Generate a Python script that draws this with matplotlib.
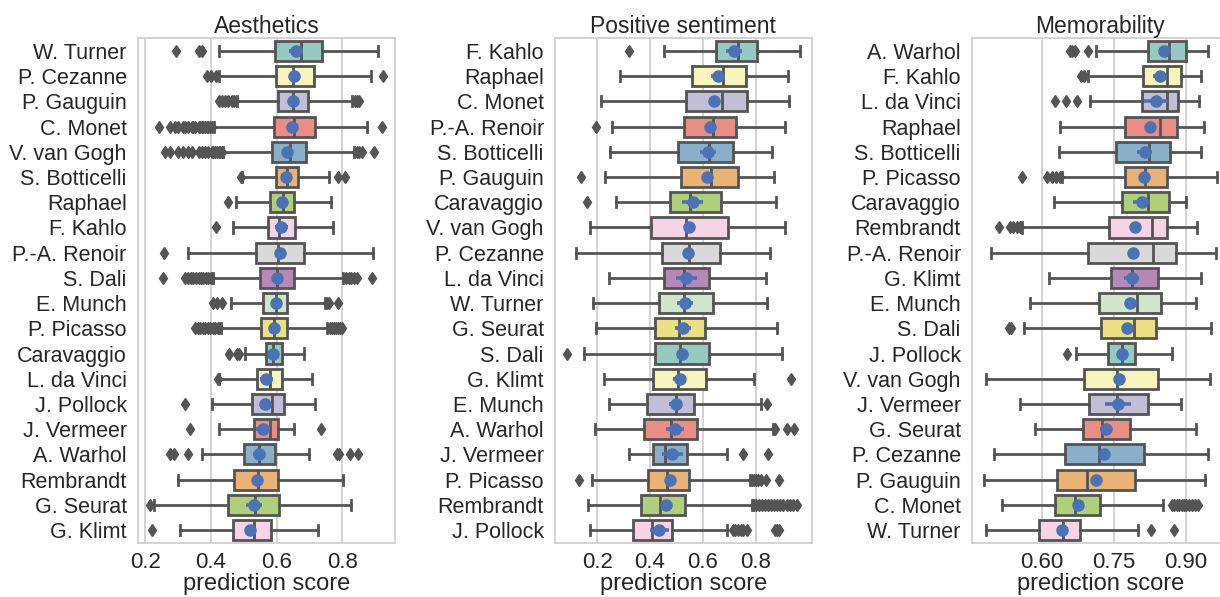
import colorsys

import matplotlib
matplotlib.use('Agg')
import matplotlib.pyplot as plt
import matplotlib.colors as mcolors

plt.rcParams['font.family'] = ['Liberation Sans', 'DejaVu Sans']

# ---- Aesthetics ----
aes_names = ['W. Turner', 'P. Cezanne', 'P. Gauguin', 'C. Monet', 'V. van Gogh',
             'S. Botticelli', 'Raphael', 'F. Kahlo', 'P.-A. Renoir', 'S. Dali',
             'E. Munch', 'P. Picasso', 'Caravaggio', 'L. da Vinci', 'J. Pollock',
             'J. Vermeer', 'A. Warhol', 'Rembrandt', 'G. Seurat', 'G. Klimt']
aes_q1 = [0.595, 0.598, 0.605, 0.592, 0.586, 0.597, 0.578, 0.573, 0.538, 0.550,
          0.559, 0.551, 0.567, 0.541, 0.526, 0.531, 0.499, 0.471, 0.453, 0.468]
aes_med = [0.675, 0.650, 0.649, 0.654, 0.641, 0.630, 0.618, 0.608, 0.603, 0.601,
           0.598, 0.592, 0.590, 0.580, 0.585, 0.578, 0.546, 0.544, 0.534, 0.531]
aes_q3 = [0.737, 0.712, 0.695, 0.716, 0.689, 0.664, 0.653, 0.655, 0.682, 0.653,
          0.632, 0.632, 0.617, 0.617, 0.622, 0.603, 0.595, 0.605, 0.607, 0.583]
aes_lo = [0.425, 0.423, 0.480, 0.409, 0.436, 0.495, 0.476, 0.466, 0.331, 0.406,
          0.462, 0.430, 0.504, 0.425, 0.404, 0.423, 0.374, 0.299, 0.225, 0.306]
aes_hi = [0.908, 0.886, 0.828, 0.874, 0.835, 0.759, 0.765, 0.772, 0.892, 0.802,
          0.747, 0.752, 0.684, 0.708, 0.716, 0.653, 0.698, 0.802, 0.826, 0.727]
aes_mean = [0.658, 0.653, 0.651, 0.645, 0.631, 0.628, 0.616, 0.614, 0.609, 0.601,
            0.598, 0.591, 0.588, 0.568, 0.564, 0.558, 0.547, 0.539, 0.531, 0.519]
aes_ci = [0.020, 0.012, 0.012, 0.012, 0.012, 0.010, 0.012, 0.020, 0.012, 0.012,
          0.012, 0.012, 0.010, 0.020, 0.015, 0.022, 0.018, 0.012, 0.025, 0.015]
aes_fliers = [
    [0.293, 0.362, 0.372],
    [0.387, 0.400, 0.415, 0.924],
    [0.423, 0.433, 0.442, 0.453, 0.463, 0.470, 0.838, 0.845, 0.851],
    [0.242, 0.276, 0.290, 0.300, 0.316, 0.322, 0.331, 0.341, 0.346, 0.352, 0.362,
     0.367, 0.372, 0.377, 0.382, 0.387, 0.392, 0.397, 0.402, 0.921],
    [0.260, 0.276, 0.301, 0.316, 0.331, 0.341, 0.362, 0.372, 0.382, 0.392, 0.402,
     0.407, 0.412, 0.418, 0.423, 0.428, 0.433, 0.843, 0.850, 0.858, 0.896],
    [0.492, 0.787, 0.808],
    [0.451],
    [0.415],
    [0.257],
    [0.255, 0.321, 0.331, 0.338, 0.346, 0.354, 0.362, 0.370, 0.377, 0.385, 0.392,
     0.400, 0.812, 0.820, 0.827, 0.835, 0.843, 0.890],
    [0.407, 0.418, 0.433, 0.752, 0.760, 0.787],
    [0.352, 0.360, 0.367, 0.375, 0.382, 0.390, 0.397, 0.405, 0.412, 0.420, 0.425,
     0.762, 0.768, 0.774, 0.780, 0.787, 0.793, 0.800],
    [0.456, 0.478, 0.486],
    [0.420],
    [0.321],
    [0.336, 0.734],
    [0.276, 0.286, 0.331, 0.782, 0.790, 0.822, 0.848],
    [],
    [0.215],
    [0.220],
]

# ---- Positive sentiment ----
pos_names = ['F. Kahlo', 'Raphael', 'C. Monet', 'P.-A. Renoir', 'S. Botticelli',
             'P. Gauguin', 'Caravaggio', 'V. van Gogh', 'P. Cezanne', 'L. da Vinci',
             'W. Turner', 'G. Seurat', 'S. Dali', 'G. Klimt', 'E. Munch',
             'A. Warhol', 'J. Vermeer', 'P. Picasso', 'Rembrandt', 'J. Pollock']
pos_q1 = [0.651, 0.559, 0.535, 0.528, 0.507, 0.516, 0.475, 0.405, 0.444, 0.453,
          0.435, 0.418, 0.420, 0.412, 0.388, 0.378, 0.413, 0.394, 0.365, 0.335]
pos_med = [0.734, 0.677, 0.671, 0.637, 0.623, 0.631, 0.551, 0.537, 0.548, 0.528,
           0.528, 0.508, 0.513, 0.507, 0.497, 0.479, 0.455, 0.465, 0.437, 0.407]
pos_q3 = [0.806, 0.763, 0.766, 0.727, 0.715, 0.734, 0.668, 0.694, 0.663, 0.623,
          0.639, 0.609, 0.623, 0.610, 0.567, 0.576, 0.540, 0.546, 0.532, 0.484]
pos_lo = [0.453, 0.288, 0.214, 0.256, 0.249, 0.229, 0.271, 0.172, 0.118, 0.245,
          0.185, 0.194, 0.149, 0.227, 0.245, 0.190, 0.319, 0.179, 0.166, 0.172]
pos_hi = [0.968, 0.922, 0.926, 0.911, 0.862, 0.869, 0.877, 0.910, 0.854, 0.839,
          0.841, 0.879, 0.901, 0.793, 0.822, 0.864, 0.690, 0.778, 0.785, 0.692]
pos_mean = [0.718, 0.656, 0.643, 0.627, 0.618, 0.617, 0.561, 0.548, 0.545, 0.538,
            0.532, 0.526, 0.522, 0.513, 0.497, 0.494, 0.485, 0.475, 0.459, 0.435]
pos_ci = [0.030, 0.025, 0.015, 0.015, 0.030, 0.015, 0.040, 0.015, 0.015, 0.040,
          0.030, 0.030, 0.015, 0.025, 0.025, 0.035, 0.040, 0.015, 0.015, 0.035]
pos_fliers = [
    [0.320], [], [], [0.195], [], [0.138], [0.160], [], [], [], [], [],
    [0.084],
    [0.934],
    [0.841],
    [0.873, 0.917, 0.946],
    [0.753, 0.848],
    [0.132, 0.785, 0.793, 0.801, 0.810, 0.819, 0.839, 0.889],
    [0.793, 0.803, 0.814, 0.825, 0.835, 0.846, 0.857, 0.868, 0.879, 0.892, 0.905,
     0.918, 0.930, 0.943, 0.955],
    [0.713, 0.723, 0.734, 0.744, 0.753, 0.768, 0.873, 0.881, 0.889],
]

# ---- Memorability ----
mem_names = ['A. Warhol', 'F. Kahlo', 'L. da Vinci', 'Raphael', 'S. Botticelli',
             'P. Picasso', 'Caravaggio', 'Rembrandt', 'P.-A. Renoir', 'G. Klimt',
             'E. Munch', 'S. Dali', 'J. Pollock', 'V. van Gogh', 'J. Vermeer',
             'G. Seurat', 'P. Cezanne', 'P. Gauguin', 'C. Monet', 'W. Turner']
mem_q1 = [0.822, 0.811, 0.808, 0.774, 0.755, 0.773, 0.767, 0.739, 0.696, 0.744,
          0.720, 0.723, 0.738, 0.688, 0.698, 0.685, 0.649, 0.632, 0.627, 0.594]
mem_med = [0.865, 0.861, 0.860, 0.846, 0.823, 0.814, 0.820, 0.830, 0.831, 0.787,
           0.798, 0.791, 0.767, 0.756, 0.756, 0.726, 0.719, 0.695, 0.670, 0.644]
mem_q3 = [0.899, 0.889, 0.883, 0.882, 0.867, 0.860, 0.865, 0.861, 0.879, 0.841,
          0.848, 0.838, 0.795, 0.841, 0.820, 0.784, 0.812, 0.794, 0.721, 0.680]
mem_lo = [0.713, 0.697, 0.700, 0.638, 0.636, 0.642, 0.626, 0.558, 0.494, 0.616,
          0.576, 0.563, 0.671, 0.484, 0.554, 0.586, 0.500, 0.479, 0.518, 0.484]
mem_hi = [0.946, 0.931, 0.928, 0.938, 0.932, 0.965, 0.899, 0.922, 0.962, 0.931,
          0.920, 0.951, 0.870, 0.949, 0.890, 0.920, 0.945, 0.940, 0.852, 0.801]
mem_mean = [0.854, 0.846, 0.837, 0.825, 0.814, 0.812, 0.808, 0.795, 0.789, 0.787,
            0.784, 0.777, 0.766, 0.761, 0.759, 0.733, 0.730, 0.712, 0.676, 0.642]
mem_ci = [0.008, 0.015, 0.025, 0.010, 0.015, 0.008, 0.018, 0.008, 0.008, 0.015,
          0.010, 0.008, 0.010, 0.008, 0.027, 0.012, 0.008, 0.008, 0.008, 0.008]
mem_fliers = [
    [0.659, 0.664, 0.669, 0.697],
    [0.681, 0.687],
    [0.628, 0.651, 0.673],
    [], [],
    [0.558, 0.612, 0.621, 0.630, 0.638],
    [],
    [0.512, 0.534, 0.541, 0.548, 0.554],
    [], [], [],
    [0.531, 0.536],
    [0.652],
    [], [], [], [], [],
    [0.870, 0.876, 0.881, 0.886, 0.891, 0.896, 0.901, 0.907, 0.912, 0.918, 0.924],
    [0.827, 0.876],
]

set3 = ['#8dd3c7', '#ffffb3', '#bebada', '#fb8072', '#80b1d3', '#fdb462',
        '#b3de69', '#fccde5', '#d9d9d9', '#bc80bd', '#ccebc5', '#ffed6f']
LINE = '#545454'
GRID = '#cccccc'
DOT = '#4a72b6'
TXT = '#262626'


def desaturate(c, prop=0.75):
    h, l, s = colorsys.rgb_to_hls(*mcolors.to_rgb(c))
    return colorsys.hls_to_rgb(h, l, s * prop)


def panel(ax, title, names, q1, med, q3, lo, hi, fliers, mean, ci,
          xlim, ticks, ticklabels):
    stats = []
    for i in range(len(names)):
        stats.append(dict(label=names[i], q1=q1[i], med=med[i], q3=q3[i],
                          whislo=lo[i], whishi=hi[i], fliers=fliers[i]))
    pos = list(range(len(names)))
    art = ax.bxp(stats, positions=pos, widths=0.8, orientation='horizontal',
                 patch_artist=True, showfliers=True,
                 boxprops=dict(edgecolor=LINE, linewidth=2),
                 medianprops=dict(color=LINE, linewidth=2),
                 whiskerprops=dict(color=LINE, linewidth=2),
                 capprops=dict(color=LINE, linewidth=2),
                 flierprops=dict(marker='d', markerfacecolor=LINE,
                                 markeredgecolor=LINE, markersize=6,
                                 linestyle='none'))
    for i, box in enumerate(art['boxes']):
        box.set_facecolor(desaturate(set3[i % len(set3)]))

    # means with confidence interval
    ax.errorbar(mean, pos, xerr=ci, fmt='o', color=DOT, markersize=8,
                elinewidth=2.6, capsize=0, zorder=5)

    ax.set_xlim(*xlim)
    ax.set_ylim(len(names) - 0.5, -0.5)
    ax.set_yticks(pos)
    ax.set_yticklabels(names)
    ax.set_xticks(ticks)
    ax.set_xticklabels(ticklabels)
    ax.tick_params(axis='y', length=0, pad=8, labelsize=15.5, labelcolor=TXT)
    ax.tick_params(axis='x', length=0, pad=7, labelsize=16, labelcolor=TXT)
    ax.xaxis.grid(True, color=GRID, linewidth=1.2)
    ax.yaxis.grid(False)
    ax.set_axisbelow(True)
    for s in ax.spines.values():
        s.set_color(GRID)
        s.set_linewidth(1.2)
    ax.set_title(title, fontsize=16.5, color=TXT, pad=4)
    ax.set_xlabel('prediction score', fontsize=17, color=TXT, labelpad=0)


fig = plt.figure(figsize=(12.2, 5.97), dpi=100)
ax1 = fig.add_axes([0.1129, 0.0910, 0.2109, 0.8448])
ax2 = fig.add_axes([0.4549, 0.0910, 0.2104, 0.8448])
ax3 = fig.add_axes([0.7967, 0.0910, 0.2105, 0.8448])

panel(ax1, 'Aesthetics', aes_names, aes_q1, aes_med, aes_q3, aes_lo, aes_hi,
      aes_fliers, aes_mean, aes_ci, (0.177, 0.960),
      [0.2, 0.4, 0.6, 0.8], ['0.2', '0.4', '0.6', '0.8'])
panel(ax2, 'Positive sentiment', pos_names, pos_q1, pos_med, pos_q3, pos_lo,
      pos_hi, pos_fliers, pos_mean, pos_ci, (0.040, 1.012),
      [0.2, 0.4, 0.6, 0.8], ['0.2', '0.4', '0.6', '0.8'])
panel(ax3, 'Memorability', mem_names, mem_q1, mem_med, mem_q3, mem_lo, mem_hi,
      mem_fliers, mem_mean, mem_ci, (0.455, 0.989),
      [0.60, 0.75, 0.90], ['0.60', '0.75', '0.90'])

fig.savefig('out.png', dpi=100)
